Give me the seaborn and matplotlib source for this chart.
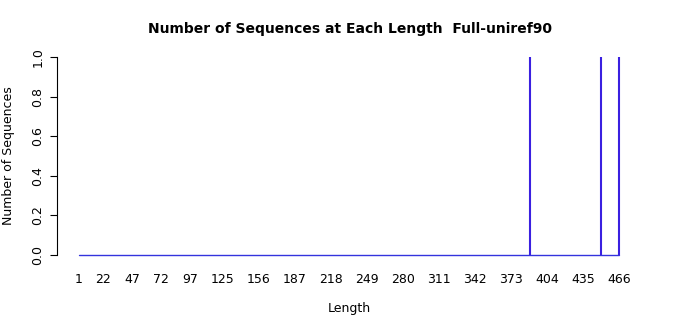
import matplotlib
matplotlib.use("Agg")
import matplotlib.pyplot as plt
import seaborn as sns
import pandas as pd

# Data
lengths = [389, 450, 466]
counts = [1, 1, 1]
baseline_x = [1, 466]
baseline_y = [0, 0]
xtick_labels = [1, 22, 47, 72, 97, 125, 156, 187, 218, 249, 280, 311, 342, 373, 404, 435, 466]
ytick_vals = [0.0, 0.2, 0.4, 0.6, 0.8, 1.0]

sns.set_theme(style="white")
plt.rcParams['font.family'] = ['DejaVu Sans']
plt.rcParams['text.color'] = 'black'
plt.rcParams['axes.labelcolor'] = 'black'
plt.rcParams['xtick.color'] = 'black'
plt.rcParams['ytick.color'] = 'black'

fig = plt.figure(figsize=(7, 3.15), dpi=100)
ax = fig.add_axes([0.0814, 0.165, 0.834, 0.679])

color = "#3a20e0"
base_df = pd.DataFrame({"Length": baseline_x, "Count": baseline_y})
sns.lineplot(data=base_df, x="Length", y="Count", ax=ax, color="#3333dd", linewidth=1.0)
ax.vlines(lengths, 0, counts, color=color, linewidth=1.5)

ax.set_xlim(1 - 0.04 * 465, 466 + 0.04 * 465)
ax.set_ylim(-0.04, 1.04)

ax.set_xticks(xtick_labels)
ax.set_xticklabels([str(v) for v in xtick_labels], fontsize=9, color="black")
ax.tick_params(axis="x", length=0, pad=7.5)
ax.set_yticks(ytick_vals)
ax.set_yticklabels([f"{v:.1f}" for v in ytick_vals], fontsize=9, rotation=90, va="center", color="black")
ax.tick_params(axis="y", length=5, width=0.8, color="black", pad=4, left=True)

for s in ["top", "right", "bottom"]:
    ax.spines[s].set_visible(False)
ax.spines["left"].set_bounds(0, 1)
ax.spines["left"].set_color("black")
ax.spines["left"].set_linewidth(0.8)

ax.set_xlabel("Length", fontsize=9, labelpad=11, color="black")
ax.set_ylabel("Number of Sequences", fontsize=9, labelpad=12, color="black")
fig.suptitle("Number of Sequences at Each Length  Full-uniref90", fontsize=10, fontweight="bold", x=0.5, y=0.93, color="black")

fig.savefig("out.png", dpi=100, facecolor="white")
